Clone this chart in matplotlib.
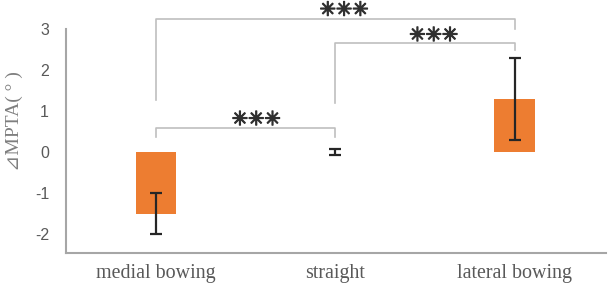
import matplotlib
matplotlib.use("Agg")
import matplotlib.pyplot as plt
import matplotlib.patheffects as pe

categories = ["medial bowing", "straight", "lateral bowing"]
means = [-1.5, 0.0, 1.3]
errors = [0.5, 0.07, 1.0]
stars = "✳✳✳"

fig = plt.figure(figsize=(6.09, 2.90), dpi=100)
ax = fig.add_axes([0.108, 0.128, 0.887, 0.772])

x = list(range(len(categories)))
ax.bar(x, means, width=0.225, color="#ED7D31", zorder=2)
ax.errorbar(x, means, yerr=errors, fmt="none", ecolor="#262626",
            elinewidth=1.6, capsize=4, capthick=1.6, zorder=3)

ax.set_xlim(-0.503, 2.51)
ax.set_ylim(-2.46, 3.0)
ax.set_yticks([-2, -1, 0, 1, 2, 3])
ax.set_yticklabels(["-2", "-1", "0", "1", "2", "3"])
ax.set_xticks(x)
ax.set_xticklabels(categories, family=["Liberation Serif", "DejaVu Serif"],
                   fontsize=14.4, color="#595959")
ax.tick_params(axis="both", length=0)
ax.tick_params(axis="y", labelsize=11.5, labelcolor="#595959", pad=12)
ax.tick_params(axis="x", pad=8)
for lab in ax.get_yticklabels():
    lab.set_family(["Liberation Sans", "DejaVu Sans"])

for s in ["top", "right"]:
    ax.spines[s].set_visible(False)
for s in ["left", "bottom"]:
    ax.spines[s].set_color("#A6A6A6")
    ax.spines[s].set_linewidth(1.5)

ax.set_ylabel("⊿MPTA( ° )", family=["Liberation Serif", "DejaVu Sans"],
              fontsize=14, color="#7F7F7F")
ax.yaxis.set_label_coords(-0.08, 0.59)

bc = "#BFBFBF"
def bracket(x1, x2, y, yl1, yl2, sx, sy):
    ax.plot([x1, x1, x2, x2], [yl1, y, y, yl2], color=bc, lw=1.2,
            clip_on=False, zorder=1)
    ax.text(sx, sy, stars, ha="center", va="center", fontsize=14,
            color="#303030", family=["DejaVu Sans"], clip_on=False,
            path_effects=[pe.withStroke(linewidth=0.9, foreground="#303030")])

bracket(0, 2, 3.24, 1.27, 3.0, 1.05, 3.46)
bracket(1, 2, 2.66, 1.2, 2.49, 1.55, 2.84)
bracket(0, 1, 0.585, 0.37, 0.37, 0.56, 0.79)

fig.savefig("out.png", dpi=100)
